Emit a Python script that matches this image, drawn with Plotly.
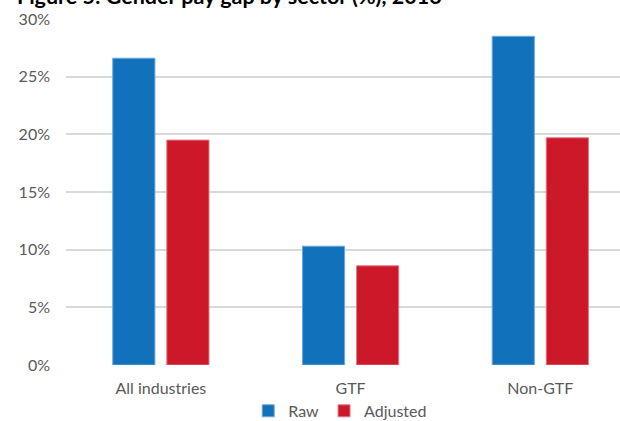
import plotly.graph_objects as go

# Gender pay gap by sector (%), 2016
sectors = ["All industries", "GTF", "Non-GTF"]
raw_gap = [26.6, 10.3, 28.5]
adjusted_gap = [19.5, 8.6, 19.7]
y_ticks = [0, 5, 10, 15, 20, 25, 30]
y_tick_labels = ["0%", "5%", "10%", "15%", "20%", "25%", "30%"]

BLUE = "#1172BB"
RED = "#CC1829"
TEXT = "#595959"
FONT = "Lato, 'Open Sans', sans-serif"

fig = go.Figure()
fig.add_trace(go.Bar(
    x=sectors, y=raw_gap, name="Raw",
    marker=dict(color=BLUE, line=dict(color="#6FA8DC", width=1)),
))
fig.add_trace(go.Bar(
    x=sectors, y=adjusted_gap, name="Adjusted",
    marker=dict(color=RED, line=dict(color="#E07A85", width=1)),
))

fig.update_layout(
    width=620, height=421,
    margin=dict(l=66, r=0, t=19, b=56, autoexpand=False),
    paper_bgcolor="white", plot_bgcolor="white",
    barmode="group", bargap=0.43, bargroupgap=0.22,
    font=dict(family=FONT, color=TEXT, size=16),
    showlegend=True,
    legend=dict(
        orientation="h", x=0.495, xanchor="center",
        yref="container", y=0.024, yanchor="middle",
        font=dict(size=16, color=TEXT), itemwidth=30,
        traceorder="normal",
    ),
    xaxis=dict(
        range=[-0.5, 2.42], showgrid=False, showline=False, zeroline=False,
        ticks="", tickfont=dict(size=16, color=TEXT), ticklabelstandoff=12,
    ),
    yaxis=dict(
        range=[0, 30], tickvals=y_ticks, ticktext=y_tick_labels,
        showgrid=True, gridcolor="#D9D9D9", gridwidth=1.5,
        zeroline=False, showline=False, ticks="",
        tickfont=dict(size=16, color=TEXT), ticklabelstandoff=15,
    ),
    annotations=[dict(
        text="<b>Figure 5: Gender pay gap by sector (%), 2016</b>",
        xref="paper", yref="paper", x=-0.092, y=1.0, xanchor="left", yanchor="bottom",
        yshift=8, showarrow=False, font=dict(size=21.5, color="#000000", family=FONT),
    )],
)

fig.write_html("out.html")
